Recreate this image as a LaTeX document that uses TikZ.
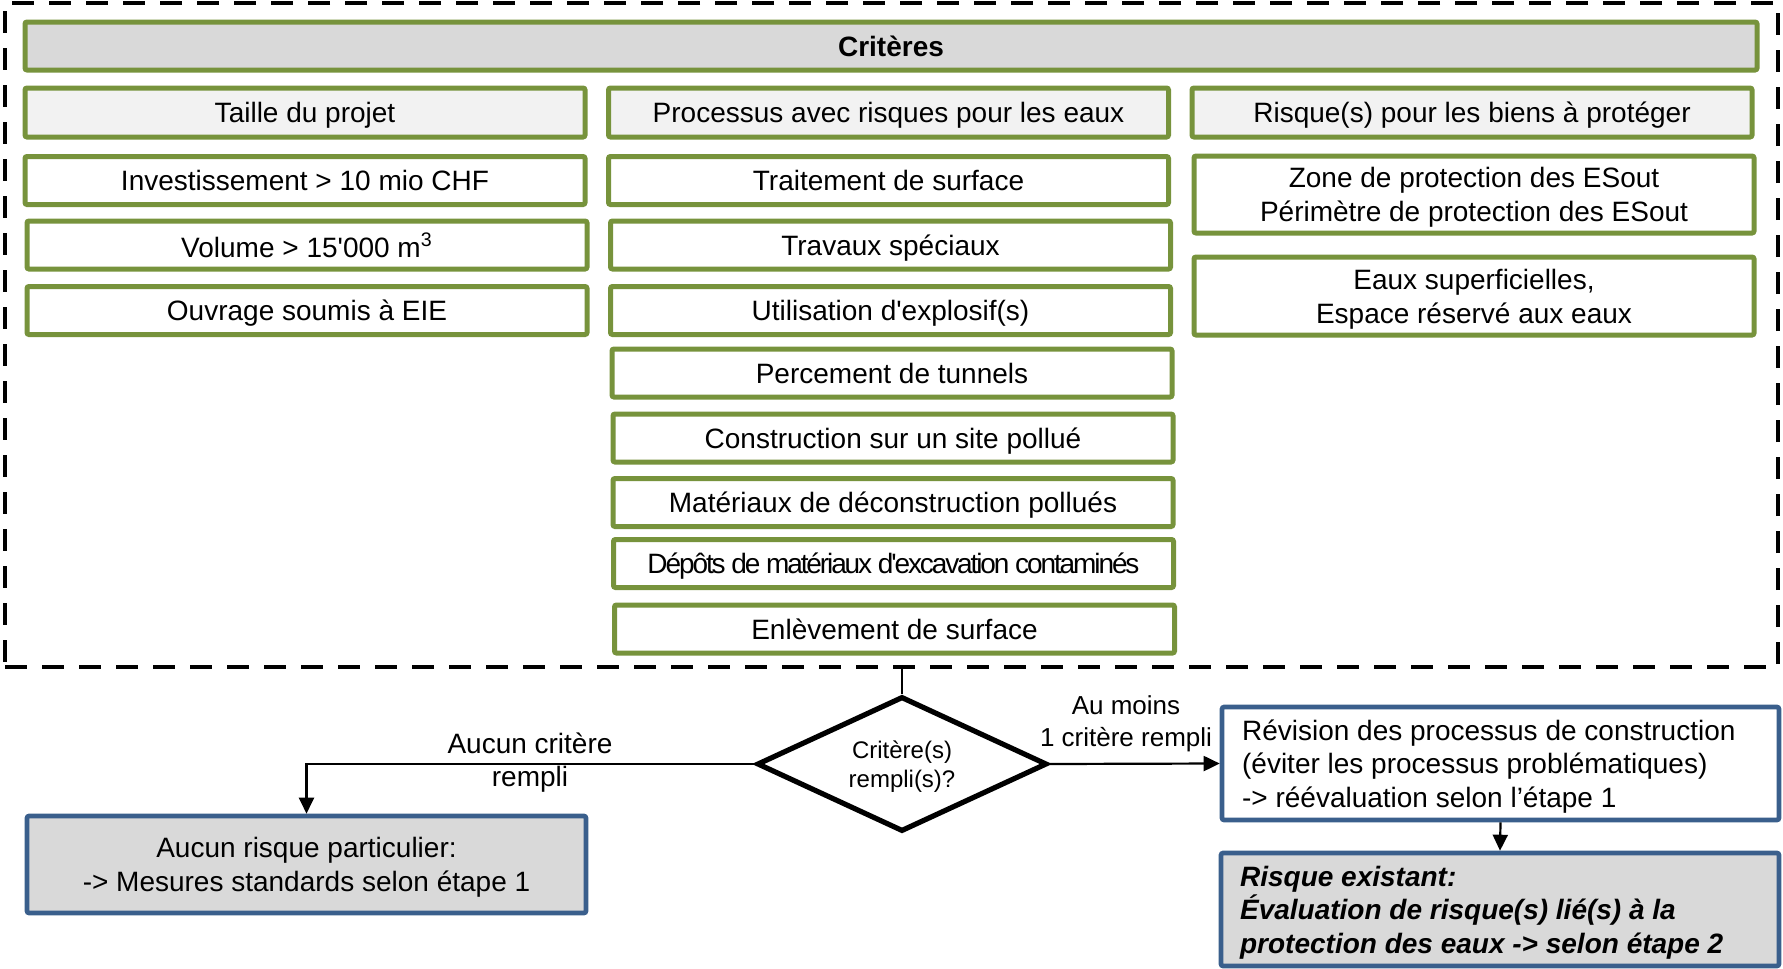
\documentclass[tikz,border=0pt]{standalone}
\usepackage{fontspec}
\setmainfont{Liberation Sans}[Ligatures=TeXOff]
\usetikzlibrary{shapes.geometric,arrows.meta}
\definecolor{olivegreen}{HTML}{77933C}
\definecolor{steelblue}{HTML}{3A5F8C}
\definecolor{lightgrey}{HTML}{D9D9D9}
\definecolor{palegrey}{HTML}{F2F2F2}

\begin{document}
\begin{tikzpicture}[x=0.5pt,y=-0.5pt,
  every node/.append style={text depth=0pt},
  crit/.style={draw=olivegreen, line width=2.5pt, rounded corners=1pt, fill=white,
    minimum width=280pt, minimum height=24pt, inner sep=1pt, align=center,
    font=\fontsize{14pt}{17pt}\selectfont},
  colhead/.style={crit, fill=palegrey, minimum height=24.5pt},
  bluebox/.style={draw=steelblue, line width=2.3pt, rounded corners=1pt,
    font=\fontsize{14pt}{16.8pt}\selectfont},
  boxtext/.style={anchor=west, inner sep=0pt, align=left,
    font=\fontsize{14pt}{16.8pt}\selectfont},
  lbl/.style={inner sep=0pt, align=center},
  conn/.style={line width=1.1pt},
  arr/.style={conn, -{Triangle[length=8pt,width=7.5pt]}}
]
\clip (0,0) rectangle (1783,969);

% dashed frame round the criteria
\node[draw, line width=2.3pt, dash pattern=on 11pt off 7.5pt,
  minimum width=886.5pt, minimum height=332pt, inner sep=0pt] (frame) at (891.5,335) {};

% title bar
\node[crit, fill=lightgrey, minimum width=866pt, font=\fontsize{14pt}{17pt}\selectfont\bfseries]
  (title) at (891,46) {Critères};

% column 1: size of the project
\node[colhead] (c1h) at (305,112.5) {Taille du projet};
\node[crit] (c1a) at (305,180.5) {Investissement > 10 mio CHF};
\node[crit] (c1b) at (307,245) {Volume > 15'000 m\textsuperscript{3}};
\node[crit] (c1c) at (307,310.5) {Ouvrage soumis à EIE};

% column 2: processes
\node[colhead] (c2h) at (888.5,112.5) {Processus avec risques pour les eaux};
\node[crit] (c2a) at (888.5,180.5) {Traitement de surface};
\node[crit] (c2b) at (890.5,245) {Travaux spéciaux};
\node[crit] (c2c) at (890.5,310.5) {Utilisation d'explosif(s)};
\node[crit] (c2d) at (892,373) {Percement de tunnels};
\node[crit] (c2e) at (893,438) {Construction sur un site pollué};
\node[crit] (c2f) at (893,502.5) {Matériaux de déconstruction pollués};
\node[crit] (c2g) at (893.5,563.5) {\addfontfeature{LetterSpace=-7.5}Dépôts de matériaux d'excavation contaminés};
\node[crit] (c2h2) at (894.5,629) {Enlèvement de surface};

% column 3: goods to protect
\node[colhead] (c3h) at (1472,112.5) {Risque(s) pour les biens à protéger};
\node[crit, minimum height=38.5pt] (c3a) at (1474,194.5) {Zone de protection des ESout\\Périmètre de protection des ESout};
\node[crit, minimum height=39pt] (c3b) at (1474,296) {Eaux superficielles,\\Espace réservé aux eaux};

% decision
\node[draw, diamond, shape aspect=2.2, line width=2.6pt, minimum width=145pt, minimum height=67.5pt,
  inner sep=0pt, align=center, font=\fontsize{12pt}{14.8pt}\selectfont]
  (dia) at (902,764) {Critère(s)\\rempli(s)?};

% outcomes
\node[bluebox, fill=lightgrey, minimum width=279.5pt, minimum height=48.5pt, align=center]
  (none) at (306.5,864.5) {Aucun risque particulier:\\-> Mesures standards selon étape 1};
\node[bluebox, fill=white, minimum width=278.5pt, minimum height=56.5pt] (rev) at (1500.5,763.5) {};
\node[boxtext] (revtext) at ([xshift=11pt]rev.west)
  {Révision des processus de construction\\(éviter les processus problématiques)\\-> réévaluation selon l’étape 1};
\node[bluebox, fill=lightgrey, minimum width=279pt, minimum height=56.5pt] (risk) at (1500,909.5) {};
\node[boxtext, font=\fontsize{14pt}{16.8pt}\selectfont\bfseries\itshape] (risktext) at ([xshift=10.5pt]risk.west)
  {Risque existant:\\Évaluation de risque(s) lié(s) à la\\protection des eaux -> selon étape 2};

% connectors
\draw[conn] (frame.south -| dia.north) -- (dia.north);
\draw[arr] (dia.west) -| (none.north);
\draw[arr] (dia.east) -- (rev.west);
\draw[arr] (rev.south) -- (risk.north);

% branch labels
\node[lbl, font=\fontsize{14pt}{16.5pt}\selectfont] (lno) at (530,760) {Aucun critère\\rempli};
\node[lbl, font=\fontsize{13pt}{16pt}\selectfont] (lyes) at (1126,721) {Au moins\\1 critère rempli};
\end{tikzpicture}
\end{document}
